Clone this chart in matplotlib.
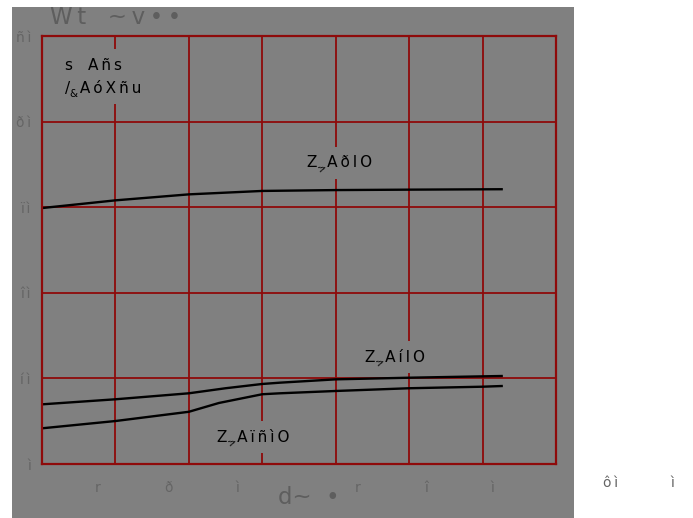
import matplotlib.pyplot as plt
import matplotlib
from matplotlib.patches import Rectangle

matplotlib.rcParams.update({'font.size': 10, 'font.family': 'DejaVu Sans'})

T = "\u2009"  # espace fine entre les lettres

# Données
x_haut = [0, 10, 20, 30, 40, 50, 62.6]
y_haut = [29.9, 30.8, 31.5, 31.9, 32.0, 32.05, 32.1]

x_milieu = [0, 10, 20, 25, 30, 32.4, 40, 50, 60, 62.6]
y_milieu = [6.97, 7.56, 8.26, 8.85, 9.35, 9.5, 9.89, 10.08, 10.24, 10.28]

x_bas = [0, 10, 20, 24.1, 30, 32.4, 40, 50, 60, 62.6]
y_bas = [4.17, 5.02, 6.10, 7.13, 8.15, 8.26, 8.53, 8.85, 9.03, 9.11]

y_ticks = [0, 10, 20, 30, 40, 50]
y_labels = ["ì", "í" + T + "ì", "î" + T + "ì", "ï" + T + "ì", "ð" + T + "ì", "ñ" + T + "ì"]

x_ticks = [7.6, 17.2, 26.6, 43.0, 52.3, 61.3]
x_labels = ["r", "ð", "ì", "r", "î", "ì"]
x_ticks_dehors = [77.4, 85.8]
x_labels_dehors = ["ô" + T + "ì", "ì"]

gris = '#808080'
rouge = '#8e0a0a'
gris_texte = '#656565'

fig = plt.figure(figsize=(6.93, 5.18), dpi=100)
fig.patch.set_facecolor('white')
fig.patches.append(Rectangle((12 / 693, 0), 562 / 693, 511 / 518,
                             transform=fig.transFigure, fc=gris, ec='none', zorder=0))

ax = fig.add_axes([42 / 693, 1 - 464 / 518, 514 / 693, 428 / 518])
ax.set_zorder(1)
ax.set_facecolor(gris)
ax.set_xlim(0, 70)
ax.set_ylim(0, 50)

ax.set_xticks([10, 20, 30, 40, 50, 60], minor=True)
ax.grid(True, which='minor', axis='x', color=rouge, lw=1.3)
ax.set_yticks(y_ticks)
ax.set_yticklabels(y_labels)
ax.grid(True, which='major', axis='y', color=rouge, lw=1.3)
ax.set_xticks(x_ticks)
ax.set_xticklabels(x_labels)
ax.tick_params(axis='both', which='both', length=0, colors=gris_texte, labelsize=10)
ax.tick_params(axis='y', pad=8)
ax.tick_params(axis='x', pad=12)
for s in ax.spines.values():
    s.set_color(rouge)
    s.set_linewidth(1.6)

for xx, lab in zip(x_ticks_dehors, x_labels_dehors):
    ax.text(xx, -0.044, lab, transform=ax.get_xaxis_transform(), ha='center', va='center',
            color=gris_texte, fontsize=10, clip_on=False)

ax.plot(x_haut, y_haut, color='black', lw=1.7)
ax.plot(x_milieu, y_milieu, color='black', lw=1.7)
ax.plot(x_bas, y_bas, color='black', lw=1.7)

boite = dict(boxstyle='square,pad=0.55', fc=gris, ec='none')
ax.text(3.1, 46.6, "s" + T * 5 + T.join("Añs"), va='center', ha='left', fontsize=11, bbox=boite)
ax.text(3.1, 43.9, "/" + "  " + T.join("AóXñu"), va='center', ha='left', fontsize=11, bbox=boite)
ax.annotate("&", (3.1, 43.9), xytext=(3.5, -4), textcoords='offset points',
            fontsize=7.5, va='center', ha='left')

etiquettes = [(36.1, 35.2, "AðlO"), (44.0, 12.5, "AílO"), (23.8, 3.15, "AïñìO")]
for xx, yy, lab in etiquettes:
    ax.text(xx, yy, "Z" + "  " + T.join(lab), va='center', ha='left', fontsize=11, bbox=boite)
    ax.annotate(">", (xx, yy), xytext=(7, -4), textcoords='offset points',
                fontsize=7.5, va='center', ha='left', rotation=20)

fig.text(50 / 693, 1 - 18 / 518, "W" + T + "t" + "   " + "~" + T + "v" + T + "•" + T + "•",
         fontsize=16.5, color='#5e5e5e', va='center')
fig.text(278 / 693, 1 - 497 / 518, "d~" + "  " + "•",
         fontsize=16.5, color='#5e5e5e', va='center')

plt.savefig('out.png', dpi=100)
